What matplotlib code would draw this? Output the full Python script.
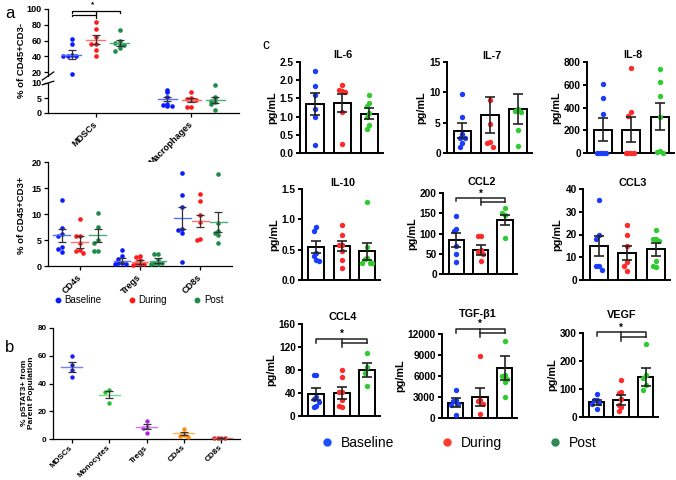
"""
three-panel figure: a) flow dot plots (broken axis on top), b) pSTAT3+ dot plot,
c) 3x3 grid of cytokine bar charts with points, mean +/- sem.
axes are placed in pixel coords so the layout matches the 676x480 reference.
"""

import matplotlib
matplotlib.use("Agg")
import matplotlib.pyplot as plt
from matplotlib.lines import Line2D

plt.rcParams["font.family"] = ["Liberation Sans", "DejaVu Sans"]
plt.rcParams["font.weight"] = "bold"
plt.rcParams["axes.titleweight"] = "bold"
plt.rcParams["axes.labelweight"] = "bold"

W, H = 676, 480

# ---- panel a, top (broken axis) ----
a_top_cats = ["MDSCs", "Macrophages"]
a_top_base = [[62, 55, 42, 41, 41, 40, 17], [7.7, 7.0, 5.5, 3.0, 2.6, 2.5, 2.4]]
a_top_during = [[84, 74, 65, 56, 55, 48, 40], [7.0, 5.0, 4.6, 4.5, 4.2, 2.1, 2.0]]
a_top_post = [[73, 60, 57, 55, 54, 50, 47], [9.5, 5.2, 4.6, 4.1, 3.6, 3.1, 1.0]]
a_top_means = [[42, 4.7], [61, 4.3], [57, 4.3]]
a_top_sems = [[6.0, 0.8], [5.5, 0.7], [3.5, 1.0]]

# ---- panel a, bottom ----
a_bot_cats = ["CD4s", "Tregs", "CD8s"]
a_bot_base = [[12.7, 7.4, 6.1, 5.8, 3.6, 3.2, 2.7], [3.0, 2.0, 1.3, 0.6, 0.5, 0.4, 0.3],
              [17.9, 13.7, 11.3, 7.2, 7.0, 6.3, 0.8]]
a_bot_during = [[9.0, 5.8, 5.7, 4.5, 3.0, 2.8, 2.5], [2.0, 1.8, 1.2, 0.6, 0.4, 0.3, 0.2],
                [13.8, 12.5, 9.8, 8.5, 5.2, 5.0]]
a_bot_post = [[10.2, 7.5, 5.0, 4.5, 2.8, 2.8], [2.4, 2.3, 1.2, 0.6, 0.5, 0.4, 0.3],
              [17.7, 8.3, 6.8, 6.3, 6.0, 4.5]]
a_bot_means = [[5.9, 1.0, 9.2], [4.6, 0.8, 8.7], [5.9, 1.0, 8.5]]
a_bot_sems = [[1.3, 0.45, 2.1], [1.2, 0.35, 1.2], [1.2, 0.45, 1.9]]

# ---- panel b ----
b_cats = ["MDSCs", "Monocytes", "Tregs", "CD4s", "CD8s"]
b_vals = [[60, 53, 50, 45], [35, 34, 26], [13, 9, 8, 4], [7, 3, 2, 1.5], [0.6, 0.5, 0.5, 0.4]]
b_means = [52, 32, 9, 4, 0.5]
b_sems = [3.5, 2.8, 2.0, 1.3, 0.1]

# ---- panel c ----
c_names = ["IL-6", "IL-7", "IL-8", "IL-10", "CCL2", "CCL3", "CCL4", "TGF-β1", "VEGF"]
c_yticks = [[0.0, 0.5, 1.0, 1.5, 2.0, 2.5], [0, 5, 10, 15], [0, 200, 400, 600, 800],
            [0.0, 0.5, 1.0, 1.5], [0, 50, 100, 150, 200], [0, 10, 20, 30, 40],
            [0, 40, 80, 120, 160], [0, 3000, 6000, 9000, 12000], [0, 100, 200, 300]]
c_means = [[1.35, 1.37, 1.08], [3.7, 6.3, 7.2], [205, 205, 320],
           [0.54, 0.56, 0.47], [84, 60, 133], [15, 12, 13.5],
           [38, 40, 80], [2200, 3000, 7200], [52, 62, 142]]
c_sems = [[0.30, 0.25, 0.15], [1.2, 3.0, 2.5], [100, 110, 120],
          [0.10, 0.09, 0.14], [17, 12, 13], [4.3, 3.0, 2.8],
          [11, 10, 12], [600, 1250, 1700], [9, 18, 32]]
c_base = [[2.25, 1.85, 1.6, 1.22, 1.0, 0.22], [9.8, 6.0, 3.2, 2.5, 2.5, 1.6, 1.0],
          [605, 485, 345, 0, 0, 0, 0], [0.88, 0.81, 0.45, 0.40, 0.33, 0.32],
          [143, 110, 106, 70, 50, 30], [35, 20, 18, 6, 6, 4.5],
          [72, 71, 33, 30, 24, 17, 16], [4000, 2600, 2400, 2000, 1900, 400],
          [83, 62, 60, 50, 45, 30]]
c_during = [[1.88, 1.72, 1.70, 1.68, 1.12, 0.25], [8.8, 4.8, 1.8, 1.7, 1.0],
            [750, 360, 325, 0, 0, 0, 0], [0.90, 0.74, 0.58, 0.57, 0.47, 0.33, 0.20],
            [95, 95, 60, 55, 50, 33], [24, 20, 15, 8, 6, 4],
            [80, 68, 42, 41, 28, 17, 16], [8800, 2600, 2500, 2000, 600],
            [133, 88, 84, 63, 42, 35, 20]]
c_post = [[1.6, 1.38, 1.3, 1.1, 1.0, 0.77, 0.67], [7.2, 7.0, 6.8, 3.8, 1.2],
          [740, 625, 505, 315, 20, 10, 0], [1.28, 0.55, 0.36, 0.34, 0.28, 0.28, 0.28],
          [162, 150, 146, 88], [22, 18, 18, 17, 8.5, 6, 5.5],
          [110, 85, 75, 52], [11000, 6200, 6000, 5600, 5200, 3000],
          [262, 150, 140, 115, 98]]
# significance brackets: (outer height, inner height, tick drop, star height)
c_sig = {"CCL2": (188, 179, 8, 197), "CCL4": (134, 127, 7, 143),
         "TGF-β1": (12770, 12140, 600, 13450), "VEGF": (302, 286, 14, 318)}

groups = ["Baseline", "During", "Post"]
a_cols = ["#0a1aff", "#ff1a1a", "#1b8c4a"]
a_mean_cols = ["#5570ff", "#ff7070", "#4caf7a"]
c_cols = ["#1a3cff", "#ff2a2a", "#2ecc2e"]
leg_cols = ["#1f4fff", "#ff3b2f", "#2e8b57"]
b_cols = ["#1a1aff", "#22bb33", "#aa22dd", "#ff8c00", "#cc2222"]
b_mean_cols = ["#6f7fff", "#77dd88", "#cc77ee", "#ffb35c", "#e07070"]

fig = plt.figure(figsize=(W / 100, H / 100), dpi=100)


def px_axes(x0, y0, x1, y1):
    return fig.add_axes([x0 / W, 1 - y1 / H, (x1 - x0) / W, (y1 - y0) / H])


def style(ax, lw=0.9, size=6.5):
    for s in ("top", "right"):
        ax.spines[s].set_visible(False)
    for s in ("left", "bottom"):
        ax.spines[s].set_linewidth(lw)
    ax.tick_params(width=lw, length=3, labelsize=size, pad=1.5)


def swarm(vals, tol, step):
    # tiny beeswarm: push a point sideways if it collides with one already placed
    placed, xs = [], []
    for v in vals:
        for c in (0, -1, 1, -2, 2, -3, 3, -4, 4):
            if all(abs(v - pv) > tol or c != pc for pv, pc in placed):
                break
        placed.append((v, c))
        xs.append(c * step)
    return xs


def dots(ax, x, vals, color, tol, step, s):
    offs = swarm(vals, tol, step)
    ax.scatter([x + o for o in offs], vals, s=s, color=color, lw=0, zorder=3, clip_on=False)


def mean_sem(ax, x, m, e, mcol, half=0.1, cap=3.2, lw=0.9):
    ax.plot([x - half, x + half], [m, m], color=mcol, lw=1.0, zorder=4)
    ax.errorbar([x], [m], yerr=[e], fmt="none", ecolor="#333333", elinewidth=lw,
                capsize=cap, capthick=lw, zorder=5)


# ================= panel a, top (broken) =================
ax_up = px_axes(48, 9, 239, 76)
ax_lo = px_axes(48, 83, 239, 113)
offs3 = [-0.25, 0, 0.25]
for ax, lim, ticks in ((ax_up, (15, 100), [20, 40, 60, 80, 100]), (ax_lo, (0, 10), [0, 5, 10])):
    style(ax)
    ax.set_xlim(-0.5, 1.5)
    ax.set_ylim(*lim)
    ax.set_yticks(ticks)
    for g, series in enumerate((a_top_base, a_top_during, a_top_post)):
        for i in range(len(a_top_cats)):
            x = i + offs3[g]
            vals = [v for v in series[i] if lim[0] <= v <= lim[1]]
            dots(ax, x, vals, a_cols[g], (lim[1] - lim[0]) * 0.05, 0.045, 11)
            if lim[0] <= a_top_means[g][i] <= lim[1]:
                mean_sem(ax, x, a_top_means[g][i], a_top_sems[g][i], a_mean_cols[g])
ax_up.spines["bottom"].set_visible(False)
ax_up.set_xticks([])
ax_lo.set_xticks(range(len(a_top_cats)))
ax_lo.set_xticklabels(a_top_cats, rotation=45, ha="right", va="center", rotation_mode="anchor")
ax_lo.tick_params(axis="x", pad=4)
# break marks on the y spine
for ax, y in ((ax_up, 0.0), (ax_lo, 1.0)):
    ax.plot([-0.03, 0.03], [y - 0.06, y + 0.06], transform=ax.transAxes, color="black",
            lw=0.9, clip_on=False)
fig.text(22 / W, 1 - 60 / H, "% of CD45+CD3-", rotation=90, ha="center", va="center", fontsize=6.8)
# significance bracket (MDSCs)
k = dict(color="black", lw=0.9, clip_on=False)
ax_up.plot([-0.25, -0.25, 0.25, 0.25], [95, 97.5, 97.5, 95], **k)
ax_up.plot([-0.25, -0.25, 0.0], [91, 92, 92], **k)
ax_up.plot([0.0, 0.0], [97.5, 89], **k)
ax_up.text(-0.03, 101, "*", ha="center", va="bottom", fontsize=6)
fig.text(5 / W, 1 - 14 / H, "a", fontsize=12, fontweight="normal", va="center")

# ================= panel a, bottom =================
ax = px_axes(48, 162, 232, 266)
style(ax)
ax.set_xlim(-0.53, 2.53)
ax.set_ylim(0, 20)
ax.set_yticks([0, 5, 10, 15, 20])
offs3b = [-0.3, 0, 0.3]
for g, series in enumerate((a_bot_base, a_bot_during, a_bot_post)):
    for i in range(len(a_bot_cats)):
        x = i + offs3b[g]
        dots(ax, x, series[i], a_cols[g], 0.7, 0.06, 11)
        mean_sem(ax, x, a_bot_means[g][i], a_bot_sems[g][i], a_mean_cols[g], half=0.14)
ax.set_xticks(range(len(a_bot_cats)))
ax.set_xticklabels(a_bot_cats, rotation=45, ha="right", va="center", rotation_mode="anchor")
ax.tick_params(axis="x", pad=4)
fig.text(22 / W, 1 - 215 / H, "% of CD45+CD3+", rotation=90, ha="center", va="center", fontsize=6.8)

h = [Line2D([], [], marker="o", ls="none", color=c, markersize=3.2) for c in a_cols]
fig.legend(h, groups, loc="center", bbox_to_anchor=(138 / W, 1 - 300 / H), ncol=3,
           frameon=False, prop={"size": 7, "weight": "normal"}, handletextpad=0.2,
           columnspacing=2.6, handlelength=1.0, borderpad=0)

# ================= panel b =================
ax = px_axes(53, 328, 240, 439)
style(ax, size=5.8)
ax.set_xlim(-0.5, 4.5)
ax.set_ylim(0, 80)
ax.set_yticks([0, 20, 40, 60, 80])
for i in range(len(b_cats)):
    dots(ax, i, b_vals[i], b_cols[i], 2.5, 0.1, 10)
    mean_sem(ax, i, b_means[i], b_sems[i], b_mean_cols[i], half=0.28)
ax.set_xticks(range(len(b_cats)))
ax.set_xticklabels(b_cats, rotation=45, ha="right", va="center", rotation_mode="anchor")
ax.tick_params(axis="x", pad=2.5, labelsize=5.9)
fig.text(28 / W, 1 - 393 / H, "% pSTAT3+ from\nParent Population", rotation=90,
         ha="center", va="center", fontsize=6, linespacing=1.0)
fig.text(5 / W, 1 - 347 / H, "b", fontsize=12, fontweight="normal", va="center")

# ================= panel c =================
c_boxes = [(300, 62, 383, 153), (447, 62, 532, 153), (587, 62, 674, 153),
           (302, 189, 380, 280), (443, 193, 517, 274), (583, 189, 670, 280),
           (302, 324, 380, 416), (442, 334, 517, 418), (583, 333, 658, 417)]
c_title_xy = [(343, 55), (492, 56), (633, 55), (343, 183), (482, 182), (633, 183),
              (343, 317), (478, 314), (622, 315)]
for n, name in enumerate(c_names):
    ax = px_axes(*c_boxes[n])
    style(ax, lw=1.4, size=7.3)
    ticks = c_yticks[n]
    ax.set_xlim(-0.55, 2.5)
    ax.set_ylim(ticks[0], ticks[-1])
    ax.set_yticks(ticks)
    if isinstance(ticks[1], float):
        ax.set_yticklabels([f"{t:.1f}" for t in ticks])
    ax.set_xticks([])
    ax.bar(range(3), c_means[n], width=0.63, color="white", edgecolor="black", lw=1.4, zorder=2)
    rng = ticks[-1] - ticks[0]
    for g, series in enumerate((c_base, c_during, c_post)):
        dots(ax, g, series[n], c_cols[g], rng * 0.07, 0.1, 15)
    ax.errorbar(range(3), c_means[n], yerr=c_sems[n], fmt="none", ecolor="#222222",
                elinewidth=1.2, capsize=3.6, capthick=1.2, zorder=5)
    tx, ty = c_title_xy[n]
    fig.text(tx / W, 1 - ty / H, name, ha="center", va="center", fontsize=7.8)
    ax.set_ylabel("pg/mL", fontsize=7.8, labelpad=2)
    if name in c_sig:
        h1, h2, d, hs = c_sig[name]
        k = dict(color="#222222", lw=1.1, clip_on=False, zorder=6)
        ax.plot([0, 0, 2, 2], [h1 - d, h1, h1, h2], **k)
        ax.plot([1, 2], [h2, h2], **k)
        ax.plot([1, 1], [h1, h2 - d], **k)
        ax.text(1, hs, "*", ha="center", va="center", fontsize=7)
fig.text(262 / W, 1 - 45 / H, "c", fontsize=10, fontweight="normal", va="center")

h = [Line2D([], [], marker="o", ls="none", color=c, markersize=5) for c in leg_cols]
fig.legend(h, groups, loc="center", bbox_to_anchor=(458 / W, 1 - 443 / H), ncol=3,
           frameon=False, prop={"size": 10, "weight": "normal"}, handletextpad=0.5,
           columnspacing=3.3, handlelength=1.0, borderpad=0)

# tick labels bold everywhere, like the prism export
for a in fig.axes:
    for t in a.get_xticklabels() + a.get_yticklabels():
        t.set_fontweight("bold")

fig.savefig("out.png", dpi=100)
